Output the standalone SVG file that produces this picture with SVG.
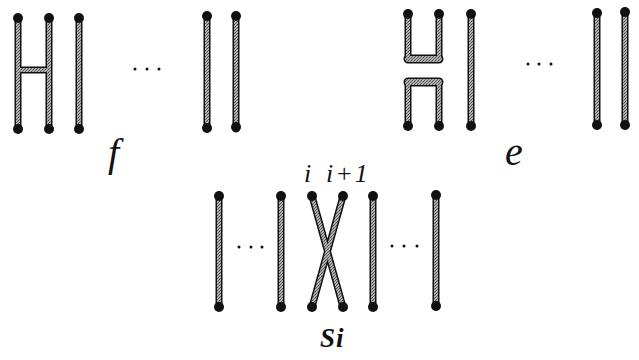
<svg xmlns="http://www.w3.org/2000/svg" width="639" height="360" viewBox="0 0 639 360">
<defs>
<pattern id="tex" width="3" height="3" patternUnits="userSpaceOnUse">
<rect width="3" height="3" fill="#b0b0b0"/>
<rect x="0" y="0" width="1" height="1" fill="#444"/>
<rect x="2" y="1" width="1" height="1" fill="#666"/>
<rect x="1" y="2" width="1" height="1" fill="#555"/>
</pattern>
</defs>
<style>
.o{fill:none;stroke:#111;stroke-width:7;stroke-linecap:round;stroke-linejoin:round}
.i{fill:none;stroke:url(#tex);stroke-width:4;stroke-linecap:round;stroke-linejoin:round}
.ob{fill:none;stroke:#111;stroke-width:9;stroke-linecap:round;stroke-linejoin:round}
.ib{fill:none;stroke:url(#tex);stroke-width:6;stroke-linecap:round;stroke-linejoin:round}
.d{fill:#111}
.t{font-family:"Liberation Serif","Times New Roman",serif;font-style:italic;fill:#111}
</style>
<g id="diagram-f">
<path class="o" d="M18,18V129M49,18V129M18,70H49M79,18V129M207,18V129M236,18V129"/>
<path class="i" d="M18,18V129M49,18V129M18,70H49M79,18V129M207,18V129M236,18V129"/>
<g class="d">
<circle cx="18" cy="18" r="5"/><circle cx="49" cy="18" r="5"/><circle cx="79" cy="18" r="5"/><circle cx="207" cy="16" r="5"/><circle cx="236" cy="16" r="5"/>
<circle cx="18" cy="129" r="5"/><circle cx="49" cy="129" r="5"/><circle cx="79" cy="129" r="5"/><circle cx="207" cy="128" r="5"/><circle cx="236" cy="127" r="5"/>
<circle cx="135" cy="69" r="1.5"/><circle cx="147" cy="69" r="1.5"/><circle cx="159" cy="69" r="1.5"/>
</g>
<text class="t" x="108" y="166" font-size="40">f</text>
</g>
<g id="diagram-e">
<path class="o" d="M408,14V59H439V14M408,126V82H439V126M471,14V126M597,14V126M625,13V126"/>
<path class="ob" d="M408,59H439M408,82H439"/>
<path class="i" d="M408,14V59H439V14M408,126V82H439V126M471,14V126M597,14V126M625,13V126"/>
<path class="ib" d="M408,59H439M408,82H439"/>
<g class="d">
<circle cx="408" cy="14" r="5"/><circle cx="439" cy="14" r="5"/><circle cx="471" cy="14" r="5"/><circle cx="597" cy="13" r="5"/><circle cx="625" cy="12" r="5"/>
<circle cx="408" cy="126" r="5"/><circle cx="439" cy="126" r="5"/><circle cx="471" cy="126" r="5"/><circle cx="597" cy="125" r="5"/><circle cx="625" cy="125" r="5"/>
<circle cx="528" cy="64" r="1.5"/><circle cx="539" cy="64" r="1.5"/><circle cx="551" cy="64" r="1.5"/>
</g>
<text class="t" x="505" y="165" font-size="40">e</text>
</g>
<g id="diagram-si">
<path class="o" d="M219,196V307M281,196V307M312,196L343,307M343,196L312,307M373,196V307M436,196V307"/>
<path class="i" d="M219,196V307M281,196V307M312,196L343,307M343,196L312,307M373,196V307M436,196V307"/>
<g class="d">
<circle cx="219" cy="196" r="5"/><circle cx="281" cy="196" r="5"/><circle cx="312" cy="196" r="5"/><circle cx="343" cy="196" r="5"/><circle cx="373" cy="196" r="5"/><circle cx="436" cy="195" r="5"/>
<circle cx="219" cy="307" r="5"/><circle cx="281" cy="307" r="5"/><circle cx="312" cy="307" r="5"/><circle cx="343" cy="307" r="5"/><circle cx="373" cy="307" r="5"/><circle cx="436" cy="306" r="5"/>
<circle cx="239" cy="247" r="1.5"/><circle cx="251" cy="247" r="1.5"/><circle cx="262" cy="247" r="1.5"/>
<circle cx="392" cy="246" r="1.5"/><circle cx="404" cy="246" r="1.5"/><circle cx="417" cy="246" r="1.5"/>
</g>
<text class="t" x="304" y="182" font-size="26">i</text>
<text class="t" x="326" y="182" font-size="26" letter-spacing="2">i+1</text>
<text class="t" x="320" y="347" font-size="27" font-weight="bold" letter-spacing="1">Si</text>
</g>
</svg>
